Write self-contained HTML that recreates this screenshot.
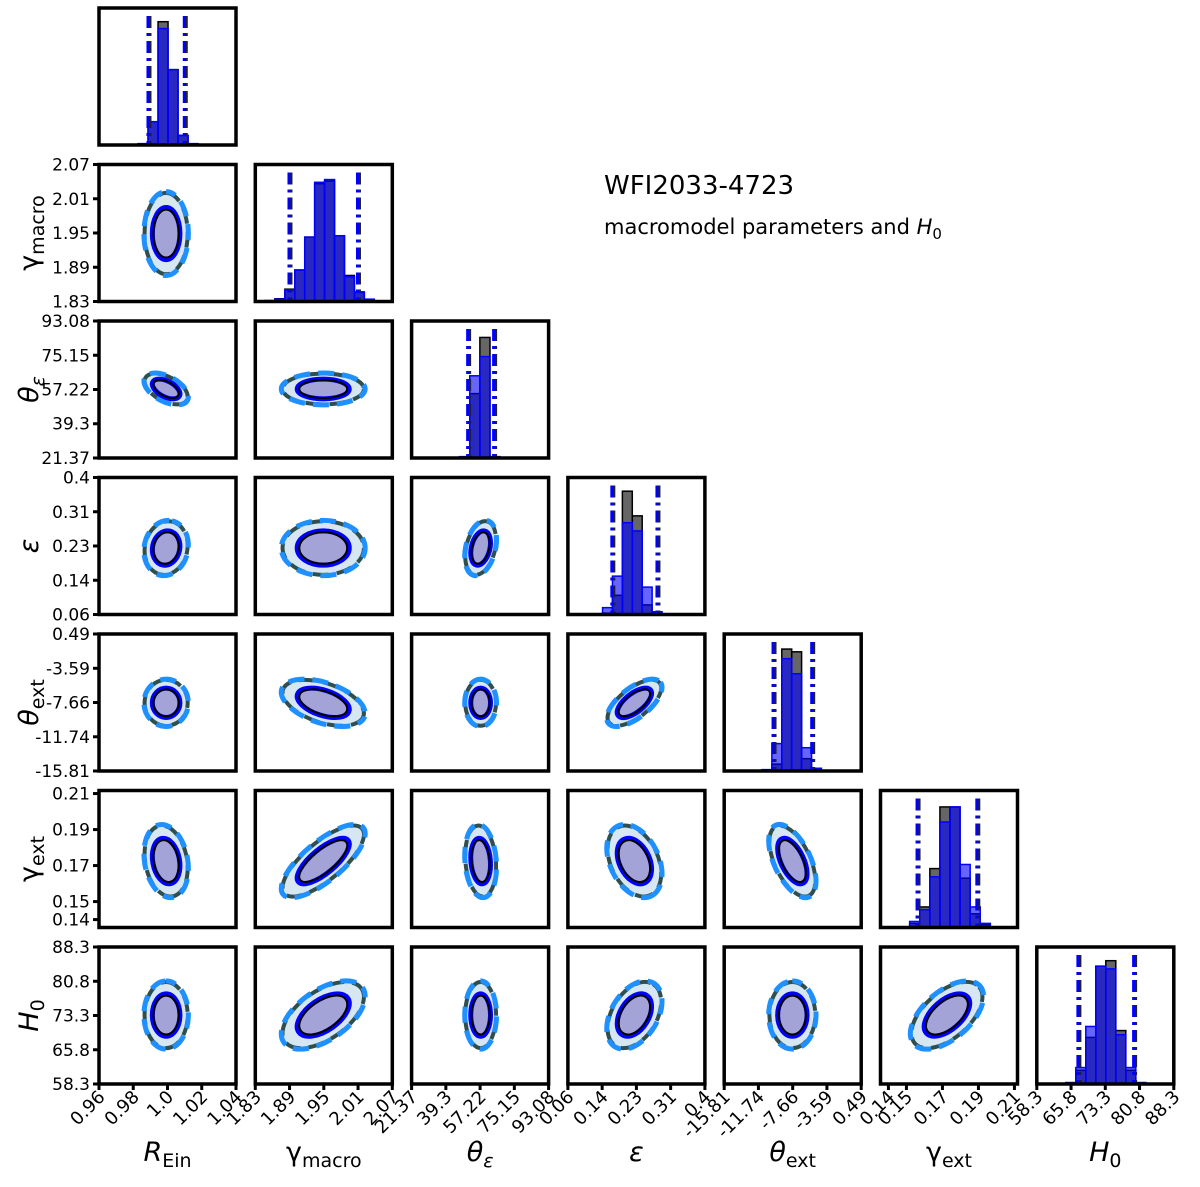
<!DOCTYPE html>
<html><head><meta charset="utf-8">
<style>
html,body{margin:0;padding:0;background:#fff;}
svg{display:block;}
text{font-family:"DejaVu Sans","Liberation Sans",sans-serif;fill:#000;}
</style></head>
<body>
<svg id="chart" width="1200" height="1187" viewBox="0 0 1200 1187" xmlns="http://www.w3.org/2000/svg">
<text x="604" y="194" font-size="26">WFI2033-4723</text>
<text x="604" y="234" font-size="21">macromodel parameters and <tspan font-style="italic">H</tspan><tspan font-size="15" dy="5">0</tspan></text>
</svg>
<script>
// ---- data ----
const paramNames = ["R_Ein","gamma_macro","theta_eps","eps","theta_ext","gamma_ext","H0"];
const axisMin = [0.96, 1.83, 21.37, 0.06, -15.81, 0.1356, 58.3];
const axisMax = [1.04, 2.07, 93.08, 0.40, 0.49, 0.2117, 88.3];
const tickValues = [
  [0.96,0.98,1.0,1.02,1.04],
  [1.83,1.89,1.95,2.01,2.07],
  [21.37,39.3,57.22,75.15,93.08],
  [0.06,0.145,0.23,0.315,0.40],
  [-15.81,-11.74,-7.66,-3.59,0.49],
  [0.14,0.15,0.17,0.19,0.21],
  [58.3,65.8,73.3,80.8,88.3]
];
const tickLabels = [
  ["0.96","0.98","1.0","1.02","1.04"],
  ["1.83","1.89","1.95","2.01","2.07"],
  ["21.37","39.3","57.22","75.15","93.08"],
  ["0.06","0.14","0.23","0.31","0.4"],
  ["-15.81","-11.74","-7.66","-3.59","0.49"],
  ["0.14","0.15","0.17","0.19","0.21"],
  ["58.3","65.8","73.3","80.8","88.3"]
];
const means = [0.9992, 1.949, 57.5, 0.225, -7.7, 0.1725, 73.4];
const sigmas = [0.0053, 0.030, 3.4, 0.028, 1.15, 0.0083, 3.05];
// correlation matrix (lower triangle used)
const corr = [
  [1],
  [0.0, 1],
  [-0.5, 0.0, 1],
  [0.1, 0.0, 0.3, 1],
  [0.0, -0.45, 0.0, 0.65, 1],
  [-0.2, 0.75, -0.15, -0.35, -0.55, 1],
  [0.0, 0.55, 0.0, 0.4, 0.0, 0.55, 1]
];
const binStart = [0.9828, 1.847, 46.5, 0.146, -11.32, 0.1462, 64.65];
const binWidth = [0.00584, 0.0174, 5.3, 0.0246, 1.18, 0.0056, 2.19];
const histBlue = [
  [0.01,0.17,0.85,0.55,0.07,0.01],
  [0.007,0.017,0.085,0.23,0.47,0.87,0.89,0.48,0.18,0.066,0.017,0.005],
  [0.01,0.6,0.74,0.01],
  [0.05,0.28,0.67,0.61,0.2,0.02],
  [0.01,0.2,0.82,0.71,0.17,0.02],
  [0.005,0.044,0.13,0.37,0.77,0.88,0.46,0.15,0.03,0.005],
  [0.01,0.12,0.42,0.86,0.84,0.36,0.12,0.01]
];
const histGrey = [
  [0.005,0.17,0.9,0.55,0.07,0.005],
  [0.005,0.02,0.09,0.23,0.47,0.86,0.88,0.48,0.19,0.07,0.015,0.004],
  [0.005,0.47,0.88,0.005],
  [0.01,0.14,0.9,0.72,0.07,0.01],
  [0.005,0.05,0.89,0.87,0.09,0.01],
  [0.003,0.03,0.15,0.43,0.88,0.88,0.36,0.1,0.02,0.003],
  [0.01,0.1,0.34,0.86,0.9,0.39,0.1,0.01]
];

// ---- layout ----
const NS = "http://www.w3.org/2000/svg";
const svg = document.getElementById("chart");
const PX0 = 99, PY0 = 8, STEPX = 156.3, STEPY = 156.5, PW = 137, PH = 137;
function px(i){ return PX0 + i*STEPX; }
function py(j){ return PY0 + j*STEPY; }
function xScale(i, v){ return px(i) + (v - axisMin[i])/(axisMax[i]-axisMin[i])*PW; }
function yScale(j, row, v){ return py(row) + PH - (v - axisMin[j])/(axisMax[j]-axisMin[j])*PH; }
function mk(tag, attrs, parent){
  const e = document.createElementNS(NS, tag);
  for (const k in attrs) e.setAttribute(k, attrs[k]);
  (parent||svg).appendChild(e);
  return e;
}
const defs = mk("defs", {});

const xLabelHTML = [
  '<tspan font-style="italic">R</tspan><tspan font-size="19" dy="6">Ein</tspan>',
  '<tspan>γ</tspan><tspan font-size="19" dy="6">macro</tspan>',
  '<tspan font-style="italic">θ</tspan><tspan font-size="19" dy="6" font-style="italic">ε</tspan>',
  '<tspan font-style="italic">ε</tspan>',
  '<tspan font-style="italic">θ</tspan><tspan font-size="19" dy="6">ext</tspan>',
  '<tspan>γ</tspan><tspan font-size="19" dy="6">ext</tspan>',
  '<tspan font-style="italic">H</tspan><tspan font-size="19" dy="6">0</tspan>'
];

function ellipseParams(i, j, row, k){
  const kx = PW/(axisMax[i]-axisMin[i]);
  const ky = PH/(axisMax[j]-axisMin[j]);
  const sx = sigmas[i]*kx, sy = sigmas[j]*ky;
  const r = corr[j][i];
  const a = sx*sx, b = sy*sy, c = -r*sx*sy;
  const ang = 0.5*Math.atan2(2*c, a-b);
  const h = Math.sqrt(((a-b)/2)**2 + c*c);
  const l1 = (a+b)/2 + h, l2 = Math.max((a+b)/2 - h, 0.01);
  return {cx: xScale(i, means[i]), cy: yScale(j, row, means[j]),
          rx: k*Math.sqrt(l1), ry: k*Math.sqrt(l2), deg: ang*180/Math.PI};
}
function drawEllipse(g, p, attrs, name, scale){
  const s = scale||1;
  const e = mk("ellipse", Object.assign({cx:p.cx, cy:p.cy, rx:p.rx*s, ry:p.ry*s,
    transform:`rotate(${p.deg} ${p.cx} ${p.cy})`}, attrs), g);
  
  
  return e;
}

for (let row = 0; row < 7; row++){
  for (let col = 0; col <= row; col++){
    const x0 = px(col), y0 = py(row);
    const g = mk("g", {});
    
    
    const cid = "clip" + row + "_" + col;
    const cp = mk("clipPath", {id: cid}, defs);
    mk("rect", {x: x0, y: y0, width: PW, height: PH}, cp);
    const inner = mk("g", {"clip-path": `url(#${cid})`}, g);
    if (row === col){
      const i = col;
      const yb = y0 + PH;
      histGrey[i].forEach((v, b) => {
        const xa = xScale(i, binStart[i] + b*binWidth[i]);
        const xb = xScale(i, binStart[i] + (b+1)*binWidth[i]);
        const r = mk("rect", {x: xa, y: yb - v*PH, width: xb-xa, height: v*PH,
          fill: "rgba(0,0,0,0.6)", stroke: "#000", "stroke-width": 1.5}, inner);
        
        
      });
      histBlue[i].forEach((v, b) => {
        const xa = xScale(i, binStart[i] + b*binWidth[i]);
        const xb = xScale(i, binStart[i] + (b+1)*binWidth[i]);
        const r = mk("rect", {x: xa, y: yb - v*PH, width: xb-xa, height: v*PH,
          fill: "rgba(0,0,255,0.6)", stroke: "#0000ff", "stroke-width": 1.5}, inner);
        
        
      });
      [-2, 2].forEach(m => {
        const xv = xScale(i, means[i] + m*sigmas[i]);
        const lk = mk("line", {x1: xv+2, x2: xv+2, y1: y0+8, y2: yb, stroke: "#222",
          "stroke-width": 3, "stroke-dasharray": "12 5 3 5"}, inner);
        
        
        const lb = mk("line", {x1: xv, x2: xv, y1: y0+8, y2: yb, stroke: "#0000ff",
          "stroke-width": 3, "stroke-dasharray": "12 5 3 5"}, inner);
        
        
      });
    } else {
      const i = col, j = row;
      const p95 = ellipseParams(i, j, row, 2.45);
      const p68 = ellipseParams(i, j, row, 1.52);
      drawEllipse(inner, p95, {fill: "#d6e7f1", stroke: "none"}, 'contour-95-fill');
      drawEllipse(inner, p95, {fill: "none", stroke: "#2f4f4f", "stroke-width": 4, "stroke-dasharray": "16 8"}, 'contour-95-grey', 0.97);
      drawEllipse(inner, p95, {fill: "none", stroke: "#1e90ff", "stroke-width": 5, "stroke-dasharray": "16 8", "stroke-dashoffset": 6}, 'contour-95-blue');
      drawEllipse(inner, p68, {fill: "#a3a3d8", stroke: "none"}, 'contour-68-fill');
      drawEllipse(inner, p68, {fill: "none", stroke: "#0000ff", "stroke-width": 5}, 'contour-68-blue');
      drawEllipse(inner, p68, {fill: "none", stroke: "#000", "stroke-width": 2}, 'contour-68-black', 0.92);
    }
    const fr = mk("rect", {x: x0, y: y0, width: PW, height: PH, fill: "none", stroke: "#000", "stroke-width": 3.5}, g);
    
    

    // y ticks
    if (col === 0 && row > 0){
      tickValues[row].forEach((tv, t) => {
        const yy = yScale(row, row, tv);
        const tk = mk("line", {x1: x0-6, x2: x0, y1: yy, y2: yy, stroke: "#000", "stroke-width": 3}, g);
        
        
        const tl = mk("text", {x: x0-9, y: yy+6, "font-size": 17, "text-anchor": "end"}, g);
        tl.textContent = tickLabels[row][t];
        
        
      });
      const yl = mk("text", {x: 0, y: 0, "font-size": 27, "text-anchor": "middle",
        transform: `translate(38 ${y0 + PH/2}) rotate(-90)`}, g);
      yl.innerHTML = xLabelHTML[row];
      
      
    }
    // x ticks
    if (row === 6){
      tickValues[col].forEach((tv, t) => {
        const xx = xScale(col, tv);
        const tk = mk("line", {x1: xx, x2: xx, y1: y0+PH, y2: y0+PH+6, stroke: "#000", "stroke-width": 3}, g);
        
        
        const tl = mk("text", {x: 0, y: 0, "font-size": 18, "text-anchor": "end",
          transform: `translate(${xx+7} ${y0+PH+14}) rotate(-45)`}, g);
        tl.textContent = tickLabels[col][t];
        
        
      });
      const xl = mk("text", {x: x0 + PW/2, y: 1161, "font-size": 27, "text-anchor": "middle"}, g);
      xl.innerHTML = xLabelHTML[col];
      
      
    }
  }
}
</script>
</body></html>
